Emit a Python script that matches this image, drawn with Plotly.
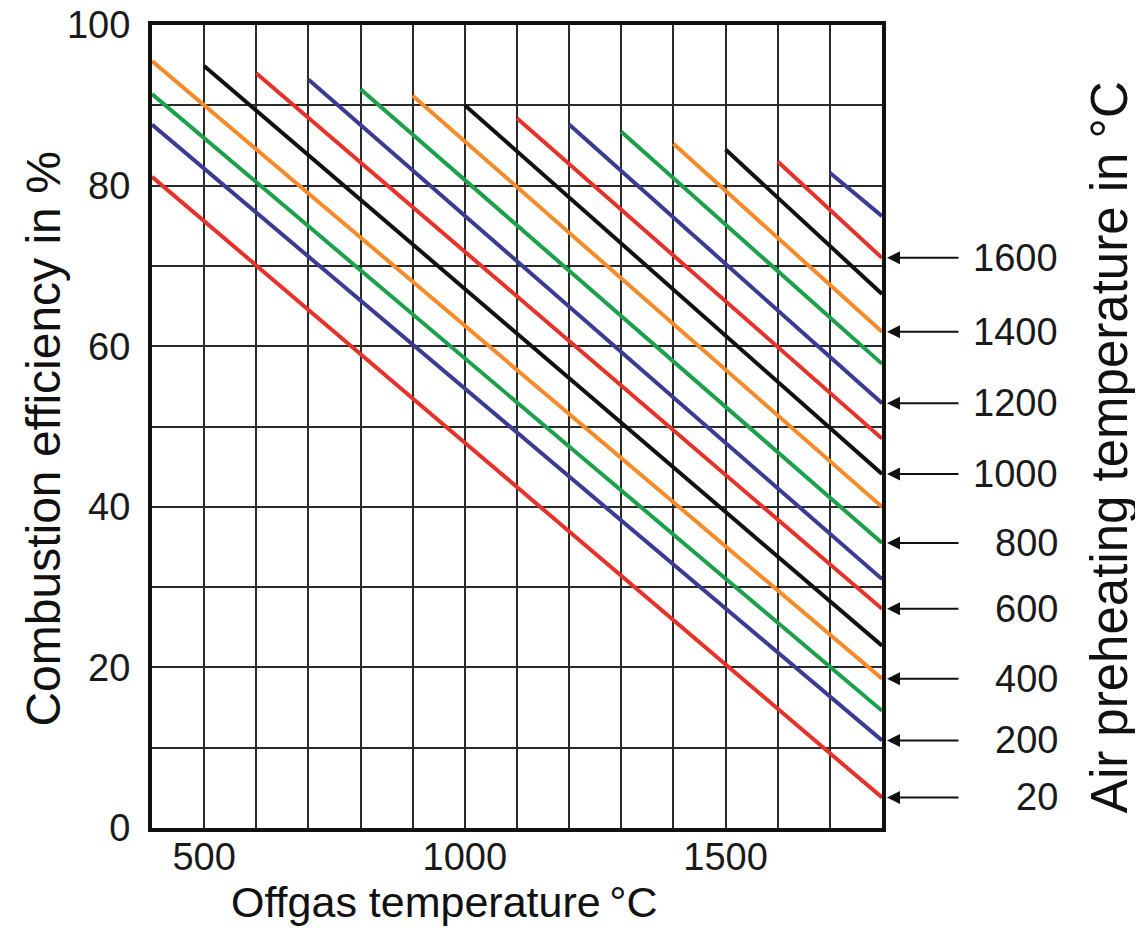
import plotly.graph_objects as go

# ---- data ----
air_temp = [20, 200, 300, 400, 500, 600, 700, 800, 900, 1000, 1100, 1200, 1300, 1400, 1500, 1600, 1700]
start_offgas = [400, 400, 400, 400, 500, 600, 700, 800, 900, 1000, 1100, 1200, 1300, 1400, 1500, 1600, 1700]
start_eff = [81.1, 87.6, 91.4, 95.5, 94.9, 94.0, 93.2, 92.0, 91.2, 90.0, 88.4, 87.6, 86.7, 85.2, 84.5, 83.0, 81.6]
end_offgas = [1800] * 17
end_eff = [3.8, 10.9, 14.6, 18.6, 22.7, 27.3, 31.0, 35.5, 40.0, 44.1, 48.5, 52.9, 57.8, 61.8, 66.5, 71.0, 76.2]
labeled_temps = [20, 200, 400, 600, 800, 1000, 1200, 1400, 1600]

palette = ["#e5322a", "#3b3b94", "#1ca04b", "#f68b2b", "#111111"]
FONT = "Liberation Sans, Arial, Helvetica, sans-serif"

fig = go.Figure()
for i, t in enumerate(air_temp):
    fig.add_trace(go.Scatter(
        x=[start_offgas[i], end_offgas[i]],
        y=[start_eff[i], end_eff[i]],
        mode="lines",
        line=dict(color=palette[i % 5], width=4),
        name=f"{t} °C",
        showlegend=False,
        hoverinfo="skip",
    ))

annotations = []
for t in labeled_temps:
    i = air_temp.index(t)
    annotations.append(dict(
        x=end_offgas[i], y=end_eff[i], xref="x", yref="y",
        text="", showarrow=True, ax=78, ay=0, axref="pixel", ayref="pixel",
        arrowhead=2, arrowsize=1.3, arrowwidth=2, arrowcolor="#111111", standoff=5,
    ))
    annotations.append(dict(
        x=end_offgas[i], y=end_eff[i], xref="x", yref="y",
        text=str(t), showarrow=False, xanchor="right", yanchor="middle",
        xshift=178, font=dict(family=FONT, size=38, color="#1a1a1a"),
    ))

annotations += [
    dict(text="Offgas temperature\u2009°C", xref="paper", yref="paper", x=0.40, y=-0.092,
         xanchor="center", yanchor="middle", showarrow=False,
         font=dict(family=FONT, size=43, color="#111111")),
    dict(text="Combustion efficiency in %", xref="paper", yref="paper", x=-0.149, y=0.484,
         xanchor="center", yanchor="middle", showarrow=False, textangle=-90,
         font=dict(family=FONT, size=48, color="#111111")),
    dict(text="Air preheating temperature in °C", xref="paper", yref="paper", x=1.312, y=0.474,
         xanchor="center", yanchor="middle", showarrow=False, textangle=-90,
         font=dict(family=FONT, size=51, color="#111111")),
]

grid_color = "#2a2a2a"
grid_width = 2
fig.update_xaxes(
    range=[400, 1800], tick0=0, dtick=500, showgrid=True,
    gridcolor=grid_color, gridwidth=grid_width,
    minor=dict(tick0=0, dtick=100, showgrid=True, gridcolor=grid_color, gridwidth=grid_width),
    showline=True, linecolor="#111111", linewidth=4, mirror=True,
    ticks="", ticklabelstandoff=-8, ticklabeloverflow="allow",
    tickfont=dict(family=FONT, size=38, color="#1a1a1a"), zeroline=False,
    automargin=False,
)
fig.update_yaxes(
    range=[0, 100], tick0=0, dtick=20, showgrid=True,
    gridcolor=grid_color, gridwidth=grid_width,
    minor=dict(tick0=0, dtick=10, showgrid=True, gridcolor=grid_color, gridwidth=grid_width),
    showline=True, linecolor="#111111", linewidth=4, mirror=True,
    ticks="outside", ticklen=10, tickcolor="rgba(0,0,0,0)", ticklabeloverflow="allow",
    tickfont=dict(family=FONT, size=38, color="#1a1a1a"), zeroline=False,
    automargin=False,
)
# the page body adds an 8px offset; size the figure so the plot lands where the reference has it
fig.update_layout(
    width=1135, height=920,
    margin=dict(l=144, r=261, t=17, b=100),
    plot_bgcolor="white", paper_bgcolor="white",
    annotations=annotations, showlegend=False,
)
fig.write_html("out.html")
